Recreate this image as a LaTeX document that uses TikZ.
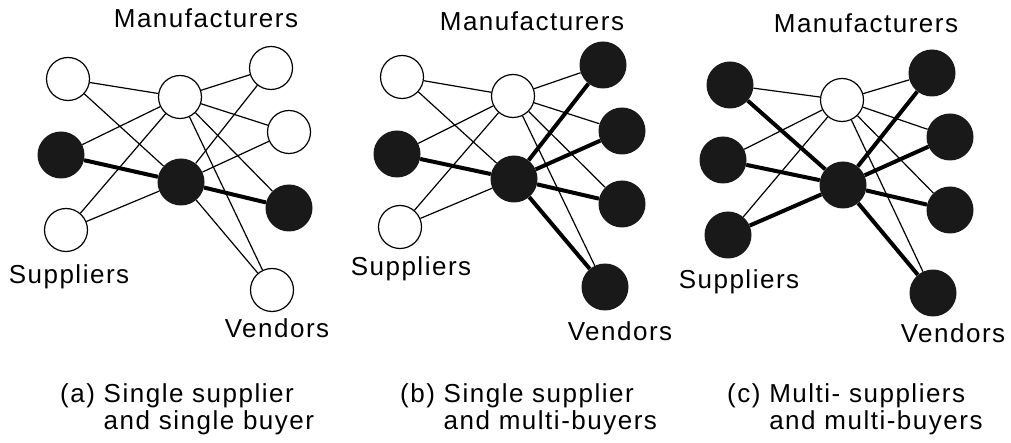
\documentclass[tikz,border=0pt]{standalone}
\usepackage{fontspec}
\setmainfont{Liberation Sans}[LetterSpace=5.8]
\begin{document}
\begin{tikzpicture}[x=1pt,y=-1pt,
  wn/.style={circle,draw=black,fill=white,line width=1.2pt,minimum size=43pt,inner sep=0pt},
  bn/.style={circle,fill=black!90,minimum size=47pt,inner sep=0pt},
  thinline/.style={line width=1.2pt},
  heavyline/.style={line width=4pt},
  lbl/.style={font=\fontsize{26}{27}\selectfont,inner sep=0pt,anchor=base},
  captext/.style={font=\fontsize{26}{27}\selectfont,inner sep=0pt,anchor=base west,align=left}]
\useasboundingbox (0,0) rectangle (1011,443);
% ---------- panel (a)
\node[wn] (a-s1) at (68,79) {};
\node[bn] (a-s2) at (61,155) {};
\node[wn] (a-s3) at (66,230) {};
\node[wn] (a-m1) at (180,97) {};
\node[bn] (a-m2) at (181,182) {};
\node[wn] (a-v1) at (271,68) {};
\node[wn] (a-v2) at (289,132) {};
\node[bn] (a-v3) at (289,208) {};
\node[wn] (a-v4) at (272,290) {};
\foreach \u/\v in {s1/m1,s1/m2,s2/m1,s3/m1,s3/m2,m1/v1,m1/v2,m1/v3,m1/v4,m2/v1,m2/v2,m2/v4}
  \draw[thinline] (a-\u) -- (a-\v);
\foreach \u/\v in {s2/m2,m2/v3}
  \draw[heavyline] (a-\u) -- (a-\v);
\node[lbl] (a-lm) at (206,28) {Manufacturers};
\node[lbl] (a-ls) at (69,284) {Suppliers};
\node[lbl] (a-lv) at (277,337) {Vendors};
\node[captext] (a-cap) at (60,429) {(a) Single supplier\\\hphantom{(a) }and single buyer};
% ---------- panel (b)
\node[wn] (b-s1) at (402,77) {};
\node[bn] (b-s2) at (397,154) {};
\node[wn] (b-s3) at (400,227) {};
\node[wn] (b-m1) at (513,96) {};
\node[bn] (b-m2) at (514,179) {};
\node[bn] (b-v1) at (603,65) {};
\node[bn] (b-v2) at (622,131) {};
\node[bn] (b-v3) at (622,204) {};
\node[bn] (b-v4) at (605,287) {};
\foreach \u/\v in {s1/m1,s1/m2,s2/m1,s3/m1,s3/m2,m1/v1,m1/v2,m1/v3,m1/v4}
  \draw[thinline] (b-\u) -- (b-\v);
\foreach \u/\v in {s2/m2,m2/v1,m2/v2,m2/v3,m2/v4}
  \draw[heavyline] (b-\u) -- (b-\v);
\node[lbl] (b-lm) at (532,31) {Manufacturers};
\node[lbl] (b-ls) at (411,276) {Suppliers};
\node[lbl] (b-lv) at (620,340) {Vendors};
\node[captext] (b-cap) at (400,429) {(b) Single supplier\\\hphantom{(b) }and multi-buyers};
% ---------- panel (c)
\node[bn] (c-s1) at (730,85) {};
\node[bn] (c-s2) at (723,160) {};
\node[bn] (c-s3) at (728,235) {};
\node[wn] (c-m1) at (842,100) {};
\node[bn] (c-m2) at (843,185) {};
\node[bn] (c-v1) at (932,73) {};
\node[bn] (c-v2) at (950,137) {};
\node[bn] (c-v3) at (950,210) {};
\node[bn] (c-v4) at (933,293) {};
\foreach \u/\v in {s1/m1,s2/m1,s3/m1,m1/v1,m1/v2,m1/v3,m1/v4}
  \draw[thinline] (c-\u) -- (c-\v);
\foreach \u/\v in {s1/m2,s2/m2,s3/m2,m2/v1,m2/v2,m2/v3,m2/v4}
  \draw[heavyline] (c-\u) -- (c-\v);
\node[lbl] (c-lm) at (866,33) {Manufacturers};
\node[lbl] (c-ls) at (739,289) {Suppliers};
\node[lbl] (c-lv) at (953,342) {Vendors};
\node[captext] (c-cap) at (727,429) {(c) Multi- suppliers\\\hphantom{(c) }and multi-buyers};
\end{tikzpicture}
\end{document}
